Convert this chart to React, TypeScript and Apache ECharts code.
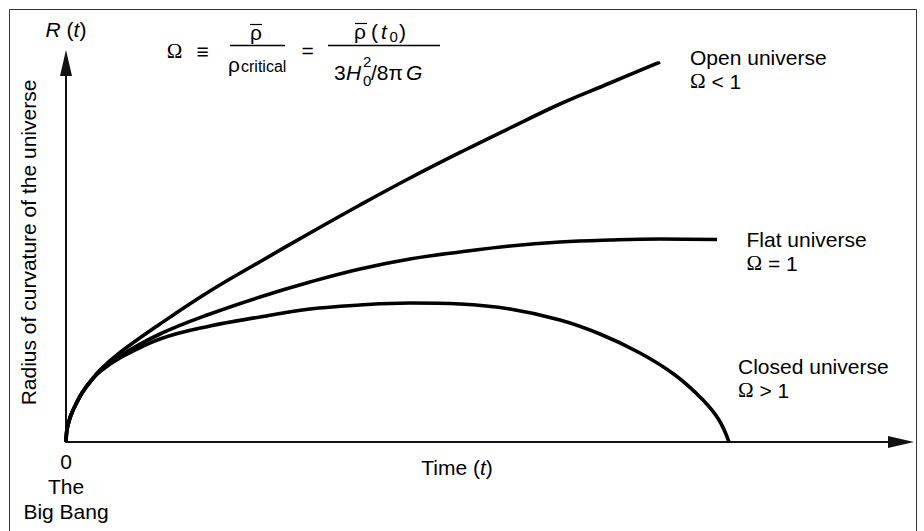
import React, { useEffect, useRef } from "react";
import * as echarts from "echarts";

// Data in arbitrary units (time t, radius R)
const commonStart: [number, number][] = [
  [0, 0], [0.03, 0.6], [0.1, 1.25], [0.25, 1.9], [0.5, 2.7], [1.0, 3.8],
  [1.6, 4.9], [2.4, 6.0],
];
const openUniverse: [number, number][] = [
  [3.4, 7.2], [5.4, 8.95], [9.4, 11.8], [14.4, 15.1], [19.7, 18.2], [24.4, 20.9],
  [29.4, 23.7], [34.4, 26.4], [39.7, 29.1], [44.4, 31.4], [49.4, 33.8], [54.4, 35.9],
  [59.4, 38.0],
];
const flatUniverse: [number, number][] = [
  [3.4, 7.1], [5.4, 8.6], [9.4, 10.8], [14.4, 12.8], [19.4, 14.5], [24.4, 16.0],
  [29.4, 17.3], [34.4, 18.3], [39.4, 19.0], [44.4, 19.6], [49.4, 20.0], [54.4, 20.2],
  [59.4, 20.3], [65.1, 20.25],
];
const closedUniverse: [number, number][] = [
  [3.4, 7.05], [5.4, 8.4], [9.4, 10.3], [14.4, 11.6], [19.4, 12.5], [24.4, 13.3],
  [29.4, 13.7], [34.4, 13.9], [39.4, 13.8], [44.4, 13.3], [49.4, 12.2], [53.4, 10.8],
  [57.4, 8.9], [60.9, 6.7], [63.7, 4.2], [65.3, 2.2], [66.3, 0],
];
const xMax = 83.5;
const yMax = 37.9;

const seriesNames = ["Open universe", "Flat universe", "Closed universe"];

const SANS = "'Liberation Sans', Arial, Helvetica, sans-serif";
const SERIF = "'Liberation Serif', 'Times New Roman', serif";
const INK = "#000";

function txt(x: number, y: number, text: string, opts: any = {}) {
  return {
    type: "text",
    x,
    y,
    rotation: opts.rotation || 0,
    style: {
      text,
      fill: INK,
      fontSize: opts.fontSize || 21,
      fontFamily: opts.fontFamily || SANS,
      fontStyle: opts.fontStyle || "normal",
      align: opts.align || "left",
      verticalAlign: opts.verticalAlign || "middle",
      lineHeight: opts.lineHeight,
      rich: opts.rich,
    },
  };
}

function bar(x1: number, x2: number, y: number, w = 1.5) {
  return {
    type: "line",
    shape: { x1, y1: y, x2, y2: y },
    style: { stroke: INK, lineWidth: w },
    silent: true,
  };
}

const richLabel = {
  n: { fontSize: 21, fontFamily: SANS, color: INK, lineHeight: 24 },
  o: { fontSize: 21, fontFamily: SERIF, color: INK, lineHeight: 24 },
};

export default function App() {
  const ref = useRef<HTMLDivElement>(null);
  useEffect(() => {
    if (!ref.current) return;
    const chart = echarts.init(ref.current, null, { renderer: "svg" });
    const lineSeries = (name: string, pts: [number, number][]) => ({
      name,
      type: "line",
      data: [...commonStart, ...pts],
      showSymbol: false,
      smooth: 0.4,
      lineStyle: { color: INK, width: 3.6 },
      z: 3,
    });
    const graphicEls: any[] = [
      {
        type: "rect",
        shape: { x: 9.5, y: 9.5, width: 907, height: 600 },
        style: { fill: "none", stroke: "#333", lineWidth: 1 },
        silent: true,
      },
      // y axis title
      txt(28, 242.5, "Radius of curvature of the universe", {
        rotation: Math.PI / 2,
        align: "center",
      }),
      // x axis title
      {
        type: "text",
        x: 457,
        y: 467,
        style: {
          text: "{n|Time (}{i|t}{n|)}",
          align: "center",
          verticalAlign: "middle",
          rich: {
            n: { fontSize: 21, fontFamily: SANS, color: INK },
            i: { fontSize: 21, fontFamily: SANS, fontStyle: "italic", color: INK },
          },
        },
      },
      // curve labels
      {
        type: "text",
        x: 690,
        y: 45,
        style: { text: "{n|Open universe}\n{o|Ω}{n| < 1}", verticalAlign: "top", align: "left", rich: richLabel },
      },
      {
        type: "text",
        x: 746.5,
        y: 227,
        style: { text: "{n|Flat universe}\n{o|Ω}{n| = 1}", verticalAlign: "top", align: "left", rich: richLabel },
      },
      {
        type: "text",
        x: 738,
        y: 354,
        style: { text: "{n|Closed universe}\n{o|Ω}{n| > 1}", verticalAlign: "top", align: "left", rich: richLabel },
      },
      // formula
      txt(174.5, 51, "Ω", { fontFamily: SERIF, align: "center" }),
      txt(202.5, 51, "≡", { align: "center" }),
      txt(256, 32, "ρ", { align: "center" }),
      bar(250, 262, 24.5, 1.2),
      bar(230, 285, 45.5),
      txt(228, 64.5, "ρ"),
      txt(241, 66, "critical", { fontSize: 16 }),
      txt(307.5, 50, "=", { align: "center" }),
      txt(354, 31, "ρ"),
      bar(355, 367, 23.5, 1.2),
      txt(371, 31, "("),
      txt(381, 31, "t", { fontStyle: "italic" }),
      txt(389.5, 36, "0", { fontSize: 15 }),
      txt(399, 31, ")"),
      bar(328, 440, 45.5),
      txt(334, 72, "3"),
      txt(346, 72, "H", { fontStyle: "italic" }),
      txt(363, 61, "2", { fontSize: 15 }),
      txt(363, 80, "0", { fontSize: 15 }),
      txt(371, 72, "/8π"),
      txt(406, 72, "G", { fontStyle: "italic" }),
    ];

    chart.setOption({
      animation: false,
      grid: { left: 66, right: 924 - 66 - xMax * 10, top: 442 - yMax * 10, bottom: 89, containLabel: false },
      xAxis: {
        type: "value",
        min: 0,
        max: xMax,
        axisLine: {
          show: true,
          symbol: ["none", "triangle"],
          symbolSize: [12, 26],
          lineStyle: { color: "#111", width: 2 },
        },
        axisTick: { show: false },
        splitLine: { show: false },
        axisLabel: {
          show: true,
          margin: 7,
          color: INK,
          fontSize: 21,
          lineHeight: 25,
          fontFamily: SANS,
          formatter: (v: number) => (v === 0 ? "0\nThe\nBig Bang" : ""),
        },
      },
      yAxis: {
        type: "value",
        min: 0,
        max: yMax,
        name: "{i|R} ({i|t})",
        nameLocation: "end",
        nameGap: 23,
        nameTextStyle: {
          fontSize: 21,
          fontFamily: SANS,
          color: INK,
          rich: {
            i: { fontSize: 21, fontFamily: SANS, fontStyle: "italic", color: INK },
          },
        },
        axisLine: {
          show: true,
          symbol: ["none", "triangle"],
          symbolSize: [12, 26],
          lineStyle: { color: "#111", width: 2 },
        },
        axisTick: { show: false },
        splitLine: { show: false },
        axisLabel: { show: false },
      },
      series: [
        lineSeries(seriesNames[0], openUniverse),
        lineSeries(seriesNames[1], flatUniverse),
        lineSeries(seriesNames[2], closedUniverse),
      ],
      graphic: graphicEls,
    });
    return () => chart.dispose();
  }, []);
  return (
    <div
      ref={ref}
      style={{ position: "fixed", left: 0, top: 0, width: 924, height: 531, background: "#fff" }}
    />
  );
}
